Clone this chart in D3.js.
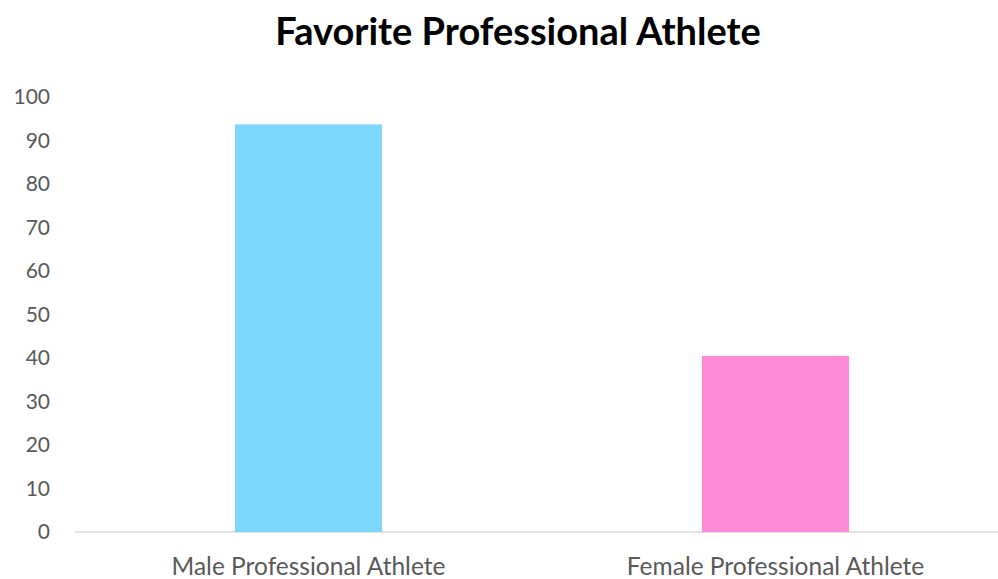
<!DOCTYPE html>
<html>
<head>
<meta charset="utf-8">
<script src="https://cdn.jsdelivr.net/npm/d3@7"></script>
<style>
  body { margin: 0; background: #fff; }
</style>
</head>
<body>
<div id="chart"></div>
<script>
// data
const categories = ["Male Professional Athlete", "Female Professional Athlete"];
const values = [93.7, 40.5];
const yTicks = [0, 10, 20, 30, 40, 50, 60, 70, 80, 90, 100];
const barColors = ["#7cd6fd", "#fb8ad7"];

const width = 998;
const height = 579;
const margin = { top: 97, right: -11, bottom: 47, left: 75 };
const font = "Lato, 'Open Sans', sans-serif";

const svg = d3.select("#chart")
  .append("svg")
  .attr("width", width)
  .attr("height", height)
  .style("font-family", font);

// title
svg.append("text")
  .attr("x", 518)
  .attr("y", 45)
  .attr("text-anchor", "middle")
  .style("font-size", "38px")
  .style("font-weight", "bold")
  .style("fill", "#000")
  .text("Favorite Professional Athlete");

const x = d3.scaleBand()
  .domain(categories)
  .range([margin.left, width - margin.right]);

const y = d3.scaleLinear()
  .domain([0, 100])
  .range([height - margin.bottom, margin.top]);

// y labels
svg.append("g")
  .selectAll("text")
  .data(yTicks)
  .join("text")
  .attr("x", 50)
  .attr("y", (d) => y(d))
  .attr("dy", "0.35em")
  .attr("text-anchor", "end")
  .style("font-size", "21px")
  .style("fill", "#595959")
  .text((d) => d);

// baseline
svg.append("line")
  .attr("x1", margin.left)
  .attr("x2", width)
  .attr("y1", y(0))
  .attr("y2", y(0))
  .attr("stroke", "#d9d9d9")
  .attr("stroke-width", 1.5);

// bars
const barW = x.bandwidth() * 0.315;
svg.append("g")
  .selectAll("rect")
  .data(categories)
  .join("rect")
  .attr("x", (d) => x(d) + (x.bandwidth() - barW) / 2)
  .attr("y", (d, i) => y(values[i]))
  .attr("width", barW)
  .attr("height", (d, i) => y(0) - y(values[i]))
  .attr("fill", (d, i) => barColors[i]);

// x labels
svg.append("g")
  .selectAll("text")
  .data(categories)
  .join("text")
  .attr("x", (d) => x(d) + x.bandwidth() / 2)
  .attr("y", 575)
  .attr("text-anchor", "middle")
  .style("font-size", "24.5px")
  .style("fill", "#595959")
  .text((d) => d);
</script>
</body>
</html>
